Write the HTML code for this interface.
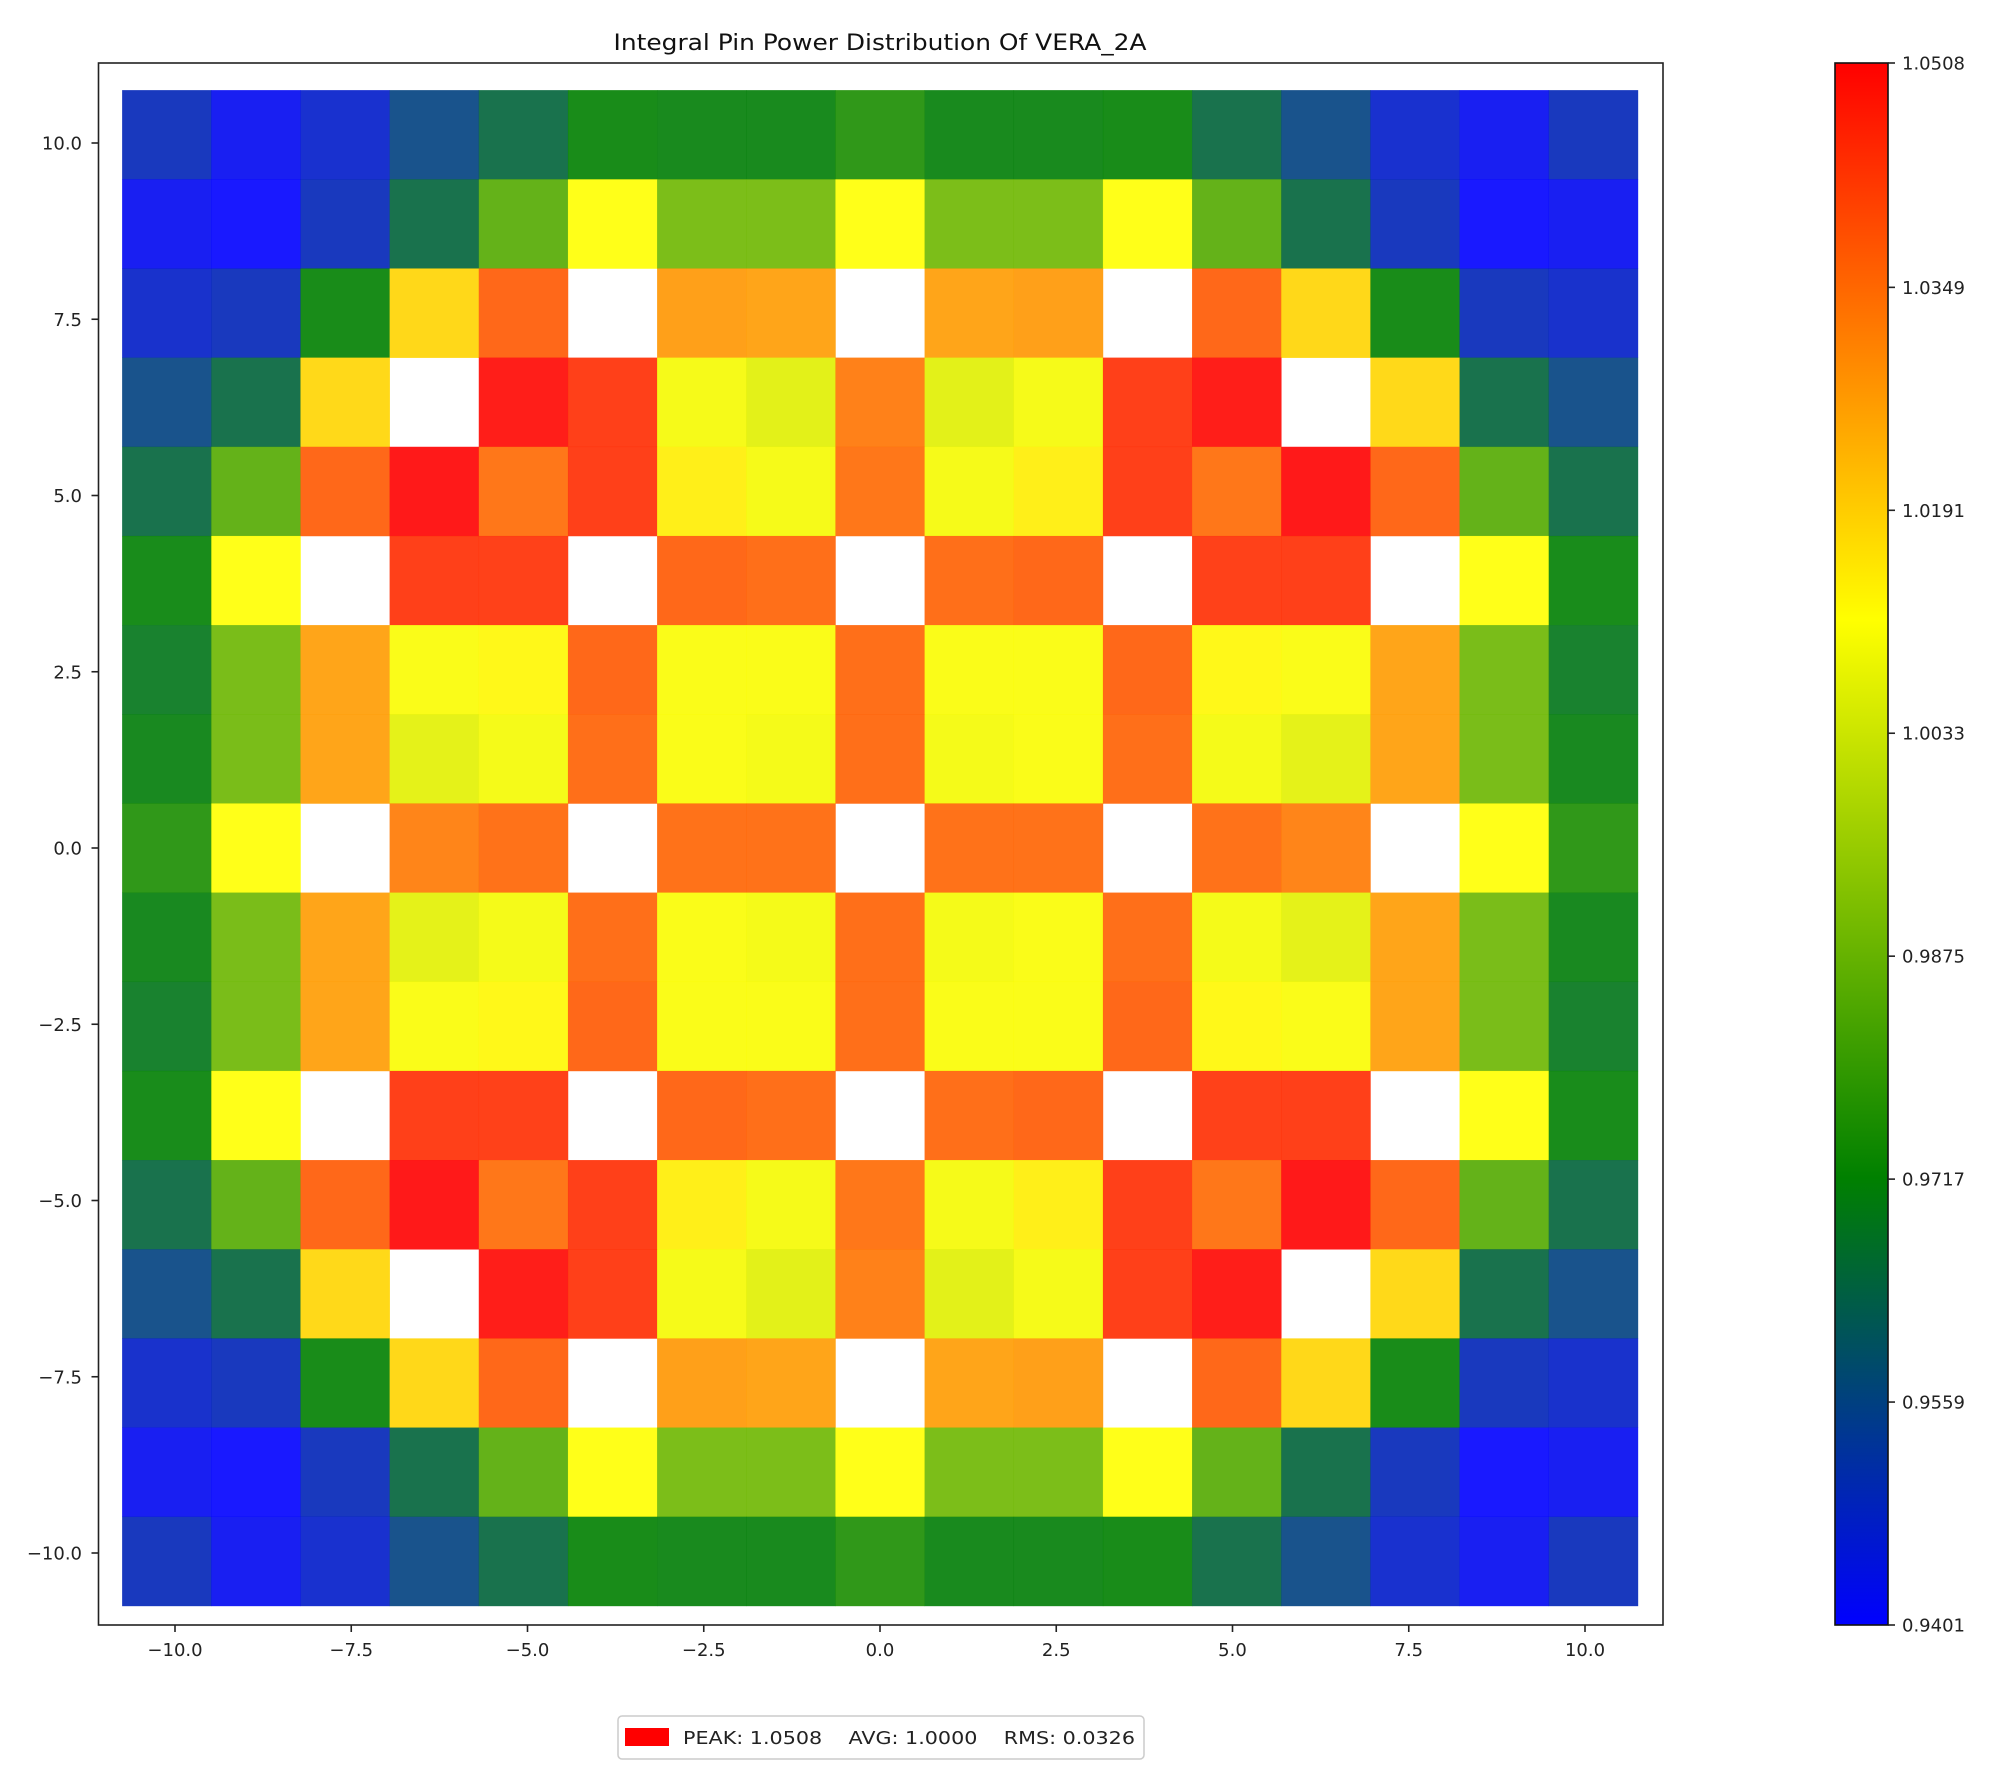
<!DOCTYPE html>
<html><head><meta charset="utf-8"><style>
html,body{margin:0;padding:0;background:#fff;}
svg{display:block;font-family:"DejaVu Sans","Liberation Sans",sans-serif;}
</style></head><body>
<svg id="chart" width="1999" height="1765" viewBox="0 0 1999 1765" xmlns="http://www.w3.org/2000/svg">
<text x="880" y="50" font-size="22" text-anchor="middle" fill="#111" textLength="533" lengthAdjust="spacingAndGlyphs">Integral Pin Power Distribution Of VERA_2A</text>
<g id="cells"></g>
<rect x="98.5" y="63" width="1564.5" height="1562" fill="none" stroke="#222" stroke-width="1.6"/>
<g id="xticks"></g>
<g id="yticks"></g>
<defs><linearGradient id="cmap" x1="0" y1="1" x2="0" y2="0">
<stop offset="0" stop-color="#0000ff"/><stop offset="0.286" stop-color="#008000"/><stop offset="0.643" stop-color="#ffff00"/><stop offset="1" stop-color="#ff0000"/>
</linearGradient></defs>
<rect x="1835" y="63" width="53" height="1562" fill="url(#cmap)" stroke="#111" stroke-width="1.6"/>
<g id="cbticks"></g>
<g>
<rect x="618" y="1716" width="526" height="43" rx="4" fill="#fff" stroke="#ccc" stroke-width="1.5"/>
<rect x="625" y="1728" width="44" height="18" fill="#ff0000"/>
<text x="683" y="1744" font-size="18" fill="#222" xml:space="preserve" textLength="452" lengthAdjust="spacingAndGlyphs">PEAK: 1.0508    AVG: 1.0000    RMS: 0.0326</text>
</g>
</svg>
<script>
const rowsTop = [
[0.9490,0.9418,0.9467,0.9559,0.9645,0.9718,0.9710,0.9710,0.9757,0.9710,0.9710,0.9718,0.9645,0.9559,0.9467,0.9418,0.9490],
[0.9418,0.9401,0.9490,0.9645,0.9847,1.0113,0.9888,0.9888,1.0113,0.9888,0.9888,1.0113,0.9847,0.9645,0.9490,0.9401,0.9418],
[0.9470,0.9490,0.9718,1.0180,1.0372,null,1.0276,1.0268,null,1.0268,1.0276,null,1.0372,1.0180,0.9718,0.9490,0.9470],
[0.9559,0.9645,1.0178,null,1.0500,1.0442,1.0098,1.0065,1.0329,1.0065,1.0098,1.0442,1.0500,null,1.0178,0.9645,0.9559],
[0.9645,0.9847,1.0372,1.0508,1.0347,1.0442,1.0140,1.0098,1.0347,1.0098,1.0140,1.0442,1.0347,1.0508,1.0372,0.9847,0.9645],
[0.9715,1.0113,null,1.0442,1.0440,null,1.0372,1.0360,null,1.0360,1.0372,null,1.0440,1.0442,null,1.0113,0.9715],
[0.9688,0.9885,1.0268,1.0105,1.0125,1.0372,1.0105,1.0105,1.0360,1.0105,1.0105,1.0372,1.0125,1.0105,1.0268,0.9885,0.9688],
[0.9708,0.9885,1.0268,1.0068,1.0095,1.0360,1.0105,1.0095,1.0360,1.0095,1.0105,1.0360,1.0095,1.0068,1.0268,0.9885,0.9708],
[0.9757,1.0113,null,1.0322,1.0355,null,1.0355,1.0355,null,1.0355,1.0355,null,1.0355,1.0322,null,1.0113,0.9757],
[0.9708,0.9885,1.0268,1.0068,1.0095,1.0360,1.0105,1.0095,1.0360,1.0095,1.0105,1.0360,1.0095,1.0068,1.0268,0.9885,0.9708],
[0.9688,0.9885,1.0268,1.0105,1.0125,1.0372,1.0105,1.0105,1.0360,1.0105,1.0105,1.0372,1.0125,1.0105,1.0268,0.9885,0.9688],
[0.9715,1.0113,null,1.0442,1.0440,null,1.0372,1.0360,null,1.0360,1.0372,null,1.0440,1.0442,null,1.0113,0.9715],
[0.9645,0.9847,1.0372,1.0508,1.0347,1.0442,1.0140,1.0098,1.0347,1.0098,1.0140,1.0442,1.0347,1.0508,1.0372,0.9847,0.9645],
[0.9559,0.9645,1.0178,null,1.0500,1.0442,1.0098,1.0065,1.0329,1.0065,1.0098,1.0442,1.0500,null,1.0178,0.9645,0.9559],
[0.9470,0.9490,0.9718,1.0180,1.0372,null,1.0276,1.0268,null,1.0268,1.0276,null,1.0372,1.0180,0.9718,0.9490,0.9470],
[0.9418,0.9401,0.9490,0.9645,0.9847,1.0113,0.9888,0.9888,1.0113,0.9888,0.9888,1.0113,0.9847,0.9645,0.9490,0.9401,0.9418],
[0.9490,0.9418,0.9467,0.9559,0.9645,0.9718,0.9710,0.9710,0.9757,0.9710,0.9710,0.9718,0.9645,0.9559,0.9467,0.9418,0.9490]
];
const axisTicks = [-10, -7.5, -5, -2.5, 0, 2.5, 5, 7.5, 10];
const axisTickLabels = ["\u221210.0","\u22127.5","\u22125.0","\u22122.5","0.0","2.5","5.0","7.5","10.0"];
const cbTicks = [0.9401, 0.9559, 0.9717, 0.9875, 1.0033, 1.0191, 1.0349, 1.0508];
const vmin = 0.9401, vmax = 1.0508;

const NS = "http://www.w3.org/2000/svg";
const cx = 880, cy = 848, ppu = 70.5;
const sx = v => cx + v * ppu;
const sy = v => cy - v * ppu;
const cellU = 21.5 / 17;
const stops = [[0,[0,0,255]],[0.286,[0,128,0]],[0.643,[255,255,0]],[1,[255,0,0]]];
function cmap(v){
  let f = Math.max(0, Math.min(1, (v - vmin) / (vmax - vmin)));
  for (let i = 0; i < stops.length - 1; i++) {
    const [a, ca] = stops[i], [b, cb] = stops[i+1];
    if (f <= b) { const t = (f - a) / (b - a);
      return `rgb(${ca.map((c,k)=>Math.round(c+(cb[k]-c)*t)).join(',')})`; }
  }
  return 'rgb(255,0,0)';
}
function mk(tag, attrs, parent){ const e = document.createElementNS(NS, tag); for (const k in attrs) e.setAttribute(k, attrs[k]); parent.appendChild(e); return e; }

const cells = document.getElementById('cells');
rowsTop.forEach((row, r) => row.forEach((v, c) => {
  if (v === null) return;
  const x0 = sx(-10.75 + c * cellU), x1 = sx(-10.75 + (c+1) * cellU);
  const y0 = sy(10.75 - r * cellU), y1 = sy(10.75 - (r+1) * cellU);
  const e = mk('rect', {x: x0, y: y0, width: x1 - x0 + 0.3, height: y1 - y0 + 0.3, fill: cmap(v), 'fill-opacity': 0.9}, cells);
  
  
}));

const xt = document.getElementById('xticks'), yt = document.getElementById('yticks');
axisTicks.forEach((t, i) => {
  const l1 = mk('line', {x1: sx(t), x2: sx(t), y1: 1625, y2: 1632, stroke: '#222', 'stroke-width': 1.6}, xt);
  
  
  const t1 = mk('text', {x: sx(t), y: 1656, 'font-size': 18, 'text-anchor': 'middle', fill: '#222'}, xt);
  t1.textContent = axisTickLabels[i];
  
  
  const l2 = mk('line', {x1: 91.5, x2: 98.5, y1: sy(t), y2: sy(t), stroke: '#222', 'stroke-width': 1.6}, yt);
  
  
  const t2 = mk('text', {x: 82, y: sy(t) + 6.5, 'font-size': 18, 'text-anchor': 'end', fill: '#222'}, yt);
  t2.textContent = axisTickLabels[i];
  
  
});

const cb = document.getElementById('cbticks');
const cby = v => 1625 - (v - vmin) / (vmax - vmin) * 1562;
cbTicks.forEach(t => {
  const l = mk('line', {x1: 1888, x2: 1895, y1: cby(t), y2: cby(t), stroke: '#222', 'stroke-width': 1.6}, cb);
  
  
  const tx = mk('text', {x: 1902, y: cby(t) + 6.5, 'font-size': 18, fill: '#222'}, cb);
  tx.textContent = t.toFixed(4);
  
  
});
</script>
</body></html>
